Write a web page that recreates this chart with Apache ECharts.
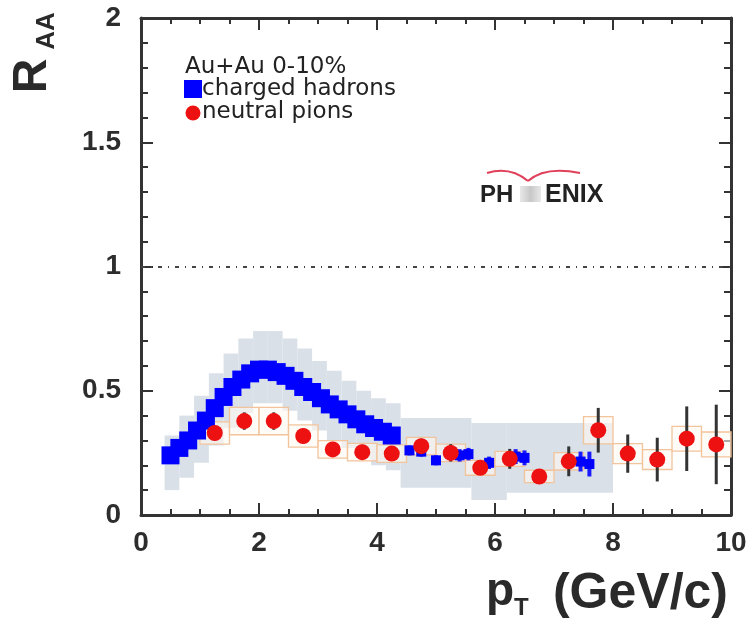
<!DOCTYPE html>
<html><head><meta charset="utf-8">
<script src="https://cdn.jsdelivr.net/npm/echarts@6/dist/echarts.min.js"></script>
<style>html,body{margin:0;padding:0;background:#fff}#c{width:748px;height:622px}</style>
</head><body><div id="c"></div>
<script>
// ---- data ----
const xMin = 0, xMax = 10, xStep = 2;
const yMin = 0, yMax = 2, yStep = 0.5;
const refLine = 1;

// charged hadrons (dense low-pT points)
const chPt  = [0.5,0.65,0.8,0.95,1.1,1.25,1.4,1.55,1.7,1.85,2.0,2.15,2.3,2.45,2.6,2.75,2.9,3.05,3.2,3.35,3.5,3.65,3.8,3.95,4.1,4.25];
const chRaa = [0.24,0.27,0.30,0.34,0.38,0.43,0.475,0.515,0.545,0.57,0.585,0.585,0.575,0.56,0.54,0.515,0.495,0.47,0.445,0.425,0.405,0.385,0.365,0.35,0.335,0.32];
// charged hadrons (high-pT points)
const chHiPt  = [4.55,4.75,5.0,5.4,5.55,5.9,6.35,6.5,7.45,7.6];
const chHiRaa = [0.26,0.255,0.22,0.24,0.245,0.21,0.235,0.23,0.215,0.205];
const chHiErr = [0.02,0.02,0.02,0.025,0.025,0.025,0.03,0.03,0.04,0.05];
// charged hadron systematic band (pT bin edges, lower, upper)
const bandX0 = [0.40,0.65,0.90,1.15,1.40,1.65,1.90,2.15,2.40,2.65,2.90,3.15,3.40,3.65,3.90,4.15,4.40,5.60,6.20];
const bandX1 = [0.65,0.90,1.15,1.40,1.65,1.90,2.15,2.40,2.65,2.90,3.15,3.40,3.65,3.90,4.15,4.40,5.60,6.20,8.00];
const bandLo = [0.10,0.15,0.21,0.28,0.35,0.41,0.45,0.45,0.42,0.38,0.34,0.30,0.27,0.23,0.20,0.18,0.11,0.06,0.09];
const bandHi = [0.32,0.40,0.48,0.57,0.65,0.71,0.74,0.74,0.71,0.67,0.62,0.58,0.54,0.50,0.47,0.45,0.39,0.37,0.37];

// neutral pions
const piPt   = [1.25,1.75,2.25,2.75,3.25,3.75,4.25,4.75,5.25,5.75,6.25,6.75,7.25,7.75,8.25,8.75,9.25,9.75];
const piRaa  = [0.33,0.378,0.378,0.318,0.264,0.253,0.247,0.277,0.25,0.19,0.226,0.155,0.216,0.341,0.247,0.223,0.307,0.284];
const piStat = [0.03,0.035,0.035,0.03,0.03,0.03,0.025,0.03,0.035,0.02,0.04,0.02,0.06,0.09,0.077,0.088,0.13,0.16];
const piSys  = [0.045,0.055,0.055,0.045,0.035,0.035,0.035,0.035,0.035,0.03,0.03,0.025,0.035,0.055,0.04,0.04,0.05,0.05];
const piBinHalf = 0.25;

// ---- chart ----
const chart = echarts.init(document.getElementById('c'), null, {renderer:'canvas'});
const axCol = '#333';
const FONT = 'Liberation Sans, Arial, sans-serif';
function xAx(pos, labels){
  return {type:'value', position:pos, min:xMin, max:xMax, interval:xStep,
    axisLine:{show:true, onZero:false, lineStyle:{color:axCol, width:3}},
    axisTick:{show:true, inside:true, length:12, lineStyle:{color:axCol, width:2}},
    minorTick:{show:true, splitNumber:4, length:6, lineStyle:{color:axCol, width:2}},
    splitLine:{show:false}, minorSplitLine:{show:false},
    axisLabel:{show:labels, margin:14, fontSize:28, fontWeight:'bold', color:'#2d2d2d', fontFamily:FONT}};
}
function yAx(pos, labels){
  return {type:'value', position:pos, min:yMin, max:yMax, interval:yStep,
    axisLine:{show:true, onZero:false, lineStyle:{color:axCol, width:3}},
    axisTick:{show:true, inside:true, length:12, lineStyle:{color:axCol, width:2}},
    minorTick:{show:true, splitNumber:5, length:7, lineStyle:{color:axCol, width:2}},
    splitLine:{show:false}, minorSplitLine:{show:false},
    axisLabel:{show:labels, margin:20, fontSize:28, fontWeight:'bold', color:'#2d2d2d', fontFamily:FONT}};
}

function rectItem(params, api, style){
  const p0 = api.coord([api.value(0), api.value(3)]);
  const p1 = api.coord([api.value(1), api.value(2)]);
  return {type:'rect', shape:{x:p0[0], y:p0[1], width:p1[0]-p0[0], height:p1[1]-p0[1]}, style:style};
}
function errItem(params, api, style){
  const x = api.value(0), y = api.value(1), e = api.value(2);
  const a = api.coord([x, y - e]), b = api.coord([x, y + e]);
  return {type:'line', shape:{x1:a[0], y1:a[1], x2:b[0], y2:b[1]}, style:style};
}

const option = {
  animation:false,
  backgroundColor:'#fff',
  grid:{left:141, right:17, top:18, bottom:107, containLabel:false, outerBoundsMode:'none'},
  xAxis:[xAx('bottom', true), xAx('top', false)],
  yAxis:[yAx('left', true), yAx('right', false)],
  series:[
    {type:'custom', name:'band', xAxisIndex:0, yAxisIndex:0,
     renderItem:(p,a)=>rectItem(p,a,{fill:'#d9e0e8'}),
     encode:{x:[0,1], y:[2,3]},
     data: bandX0.map((x,i)=>[x, bandX1[i], bandLo[i], bandHi[i]])},
    {type:'custom', name:'pi sys', renderItem:(p,a)=>rectItem(p,a,{fill:'rgba(255,248,240,0.6)', stroke:'#f2c49c', lineWidth:1.3}),
     encode:{x:[0,1], y:[2,3]},
     data: piPt.map((x,i)=>[x-piBinHalf, x+piBinHalf, piRaa[i]-piSys[i], piRaa[i]+piSys[i]])},
    {type:'scatter', name:'charged hadrons', symbol:'rect', symbolSize:18,
     itemStyle:{color:'#0000ff', opacity:1},
     data: chPt.map((x,i)=>[x, chRaa[i]]),
     markLine:{silent:true, symbol:['none','none'], label:{show:false},
       lineStyle:{color:'#444', width:2, type:[4,6,1,6]},
       data:[{yAxis:refLine}]}},
    {type:'custom', name:'ch hi err', renderItem:(p,a)=>errItem(p,a,{stroke:'#1a1aff', lineWidth:4}),
     encode:{x:0, y:1},
     data: chHiPt.map((x,i)=>[x, chHiRaa[i], chHiErr[i]])},
    {type:'scatter', name:'charged hadrons hi', symbol:'rect', symbolSize:10,
     itemStyle:{color:'#0000ff', opacity:1},
     data: chHiPt.map((x,i)=>[x, chHiRaa[i]])},
    {type:'custom', name:'pi stat', renderItem:(p,a)=>errItem(p,a,{stroke:'#333', lineWidth:3}),
     encode:{x:0, y:1},
     data: piPt.map((x,i)=>[x, piRaa[i], piStat[i]])},
    {type:'scatter', name:'neutral pions', symbol:'circle', symbolSize:16,
     itemStyle:{color:'#ee1111', opacity:1},
     data: piPt.map((x,i)=>[x, piRaa[i]])}
  ],
  graphic:[
    // y-axis title R_AA
    {type:'text', x:33, y:76, rotation:Math.PI/2,
     style:{text:'R', fontSize:48, fontWeight:'bold', fill:'#2a2a2a', fontFamily:FONT, textAlign:'center', textVerticalAlign:'middle'}},
    {type:'text', x:47, y:31, rotation:Math.PI/2,
     style:{text:'AA', fontSize:26, fontWeight:'bold', fill:'#2a2a2a', fontFamily:FONT, textAlign:'center', textVerticalAlign:'middle'}},
    // x-axis title p_T (GeV/c)
    {type:'text', x:486, y:592,
     style:{text:'p', fontSize:46, fontWeight:'bold', fill:'#2a2a2a', fontFamily:FONT, textAlign:'left', textVerticalAlign:'middle'}},
    {type:'text', x:514, y:608,
     style:{text:'T', fontSize:24, fontWeight:'bold', fill:'#2a2a2a', fontFamily:FONT, textAlign:'left', textVerticalAlign:'middle'}},
    {type:'text', x:728, y:594,
     style:{text:'(GeV/c)', fontSize:50, fontWeight:'bold', fill:'#2a2a2a', fontFamily:FONT, textAlign:'right', textVerticalAlign:'middle'}},
    // legend
    {type:'text', x:185, y:67,
     style:{text:'Au+Au 0-10%', fontSize:23, fill:'#222', fontFamily:'DejaVu Sans, sans-serif', textAlign:'left', textVerticalAlign:'middle'}},
    {type:'rect', shape:{x:184, y:80, width:18, height:18}, style:{fill:'#0000ff'}},
    {type:'text', x:202, y:89,
     style:{text:'charged hadrons', fontSize:23, fill:'#222', fontFamily:'DejaVu Sans, sans-serif', textAlign:'left', textVerticalAlign:'middle'}},
    {type:'circle', shape:{cx:193, cy:113, r:7.5}, style:{fill:'#ee1111'}},
    {type:'text', x:202, y:112,
     style:{text:'neutral pions', fontSize:23, fill:'#222', fontFamily:'DejaVu Sans, sans-serif', textAlign:'left', textVerticalAlign:'middle'}},
    // PHENIX logo
    {type:'text', x:480, y:195,
     style:{text:'PH', fontSize:24, fontWeight:'bold', fill:'#222', fontFamily:FONT, textAlign:'left', textVerticalAlign:'middle'}},
    {type:'rect', shape:{x:520, y:186, width:21, height:16},
     style:{fill:new echarts.graphic.LinearGradient(0,0,1,0,[{offset:0,color:'#e8e8e8'},{offset:0.5,color:'#c8c8c8'},{offset:1,color:'#e8e8e8'}])}},
    {type:'text', x:545, y:195,
     style:{text:'ENIX', fontSize:25, fontWeight:'bold', fill:'#222', fontFamily:FONT, textAlign:'left', textVerticalAlign:'middle'}},
    {type:'bezierCurve', shape:{x1:487, y1:173, x2:528, y2:181, cpx1:510, cpy1:166},
     style:{stroke:'#e0405a', lineWidth:2, fill:null}},
    {type:'bezierCurve', shape:{x1:528, y1:181, x2:580, y2:173, cpx1:545, cpy1:166},
     style:{stroke:'#e0405a', lineWidth:2, fill:null}}
  ]
};
chart.setOption(option);
</script>
</body></html>
